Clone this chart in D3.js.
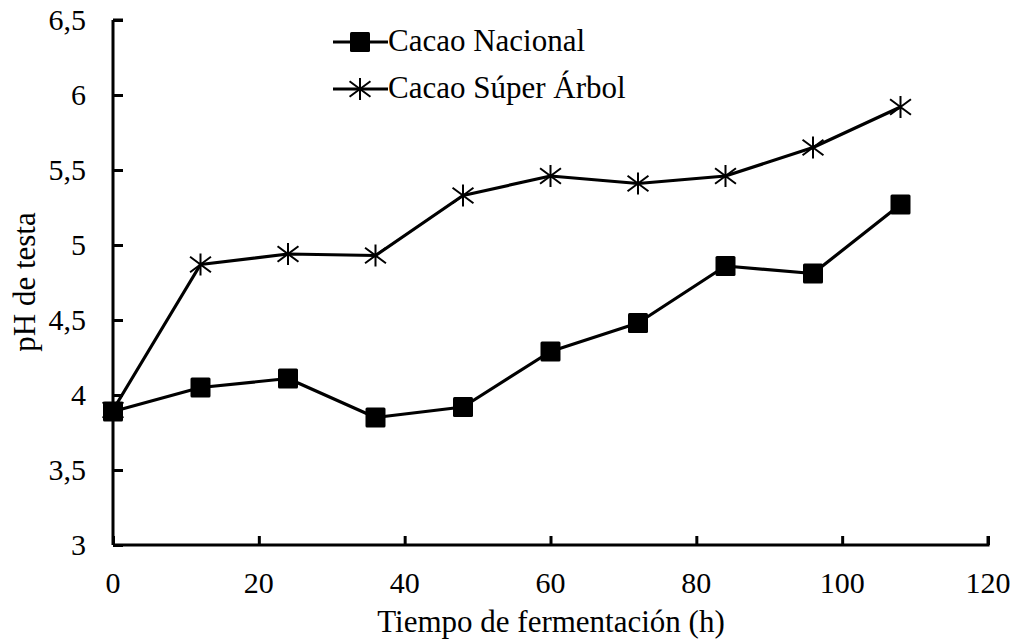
<!DOCTYPE html>
<html>
<head>
<meta charset="utf-8">
<script src="https://cdn.jsdelivr.net/npm/d3@7"></script>
<style>
  body { margin: 0; background: #fff; }
  text { font-family: "Liberation Serif", "Times New Roman", serif; fill: #000; }
</style>
</head>
<body>
<div id="chart"></div>
<script>
// Datos
const horas = [0, 12, 24, 36, 48, 60, 72, 84, 96, 108];
const phNacional = [3.89, 4.05, 4.11, 3.85, 3.92, 4.29, 4.48, 4.86, 4.81, 5.27];
const phSuperArbol = [3.90, 4.87, 4.94, 4.93, 5.33, 5.46, 5.41, 5.46, 5.65, 5.92];
const xTicks = [0, 20, 40, 60, 80, 100, 120];
const yTicks = [3, 3.5, 4, 4.5, 5, 5.5, 6, 6.5];
const nombres = ["Cacao Nacional", "Cacao Súper Árbol"];

const width = 1019, height = 644;
const margin = { top: 20, right: 31, bottom: 99, left: 113 };

const svg = d3.select("#chart").append("svg")
    .attr("width", width)
    .attr("height", height);

const x = d3.scaleLinear().domain([0, 120]).range([margin.left, width - margin.right]);
const y = d3.scaleLinear().domain([3, 6.5]).range([height - margin.bottom, margin.top]);

const fmt = d => String(d).replace(".", ",");

// Eje Y (marcas hacia dentro)
const yAxis = svg.append("g")
    .attr("transform", `translate(${margin.left},0)`)
    .call(d3.axisRight(y).tickValues(yTicks).tickSize(10).tickFormat(""));
yAxis.select(".domain").attr("d", `M0,${y(6.5)}H10M0,${y(6.5)}V${y(3)}`);
yAxis.selectAll("path, line").attr("stroke", "#000").attr("stroke-width", 3);

svg.selectAll(".ylab")
    .data(yTicks)
    .enter()
    .append("text")
    .attr("class", "ylab")
    .attr("x", margin.left - 27)
    .attr("y", d => y(d))
    .attr("dy", "0.33em")
    .attr("text-anchor", "end")
    .style("font-size", "30px")
    .text(fmt);

// Eje X (marcas hacia dentro)
const xAxis = svg.append("g")
    .attr("transform", `translate(0,${y(3)})`)
    .call(d3.axisTop(x).tickValues(xTicks).tickSize(9).tickFormat(""));
xAxis.select(".domain").attr("d", `M${x(0)},0H${x(120)}V-9`);
xAxis.selectAll("path, line").attr("stroke", "#000").attr("stroke-width", 3);

svg.selectAll(".xlab")
    .data(xTicks)
    .enter()
    .append("text")
    .attr("class", "xlab")
    .attr("x", d => x(d))
    .attr("y", y(3) + 48)
    .attr("text-anchor", "middle")
    .style("font-size", "30px")
    .text(d => d);

// Títulos de los ejes
svg.append("text")
    .attr("x", 551)
    .attr("y", 632)
    .attr("text-anchor", "middle")
    .style("font-size", "31px")
    .text("Tiempo de fermentación (h)");

svg.append("text")
    .attr("transform", `translate(35,282) rotate(-90)`)
    .attr("text-anchor", "middle")
    .style("font-size", "31px")
    .text("pH de testa");

// Líneas
const line = d3.line().x((d, i) => x(horas[i])).y(d => y(d));
const series = [phNacional, phSuperArbol];

svg.selectAll(".serie")
    .data(series)
    .enter()
    .append("path")
    .attr("class", "serie")
    .attr("d", line)
    .attr("fill", "none")
    .attr("stroke", "#000")
    .attr("stroke-width", 3.2)
    .attr("stroke-linejoin", "round");

// Marcadores
function cuadrado(g, cx, cy) {
    g.append("rect")
        .attr("x", cx - 10).attr("y", cy - 10)
        .attr("width", 20).attr("height", 20)
        .attr("rx", 1.5)
        .attr("fill", "#000");
}
function estrella(g, cx, cy) {
    const r = 11, dx = r * 0.95, dy = r * 0.7;
    g.append("path")
        .attr("d", `M${cx},${cy - r}V${cy + r}M${cx - dx},${cy - dy}L${cx + dx},${cy + dy}M${cx - dx},${cy + dy}L${cx + dx},${cy - dy}`)
        .attr("stroke", "#000")
        .attr("stroke-width", 2)
        .attr("fill", "none");
}
const marcas = svg.append("g");
phSuperArbol.forEach((v, i) => estrella(marcas, x(horas[i]), y(v)));
phNacional.forEach((v, i) => cuadrado(marcas, x(horas[i]), y(v)));

// Leyenda
const leyenda = svg.append("g");
const leyY = [42, 89];
nombres.forEach((n, i) => {
    leyenda.append("line")
        .attr("x1", 333).attr("x2", 388)
        .attr("y1", leyY[i]).attr("y2", leyY[i])
        .attr("stroke", "#000").attr("stroke-width", 3.2);
    if (i === 0) cuadrado(leyenda, 360, leyY[i]);
    else estrella(leyenda, 360, leyY[i]);
    leyenda.append("text")
        .attr("x", 388)
        .attr("y", leyY[i] + 9)
        .style("font-size", "31px")
        .text(n);
});
</script>
</body>
</html>
